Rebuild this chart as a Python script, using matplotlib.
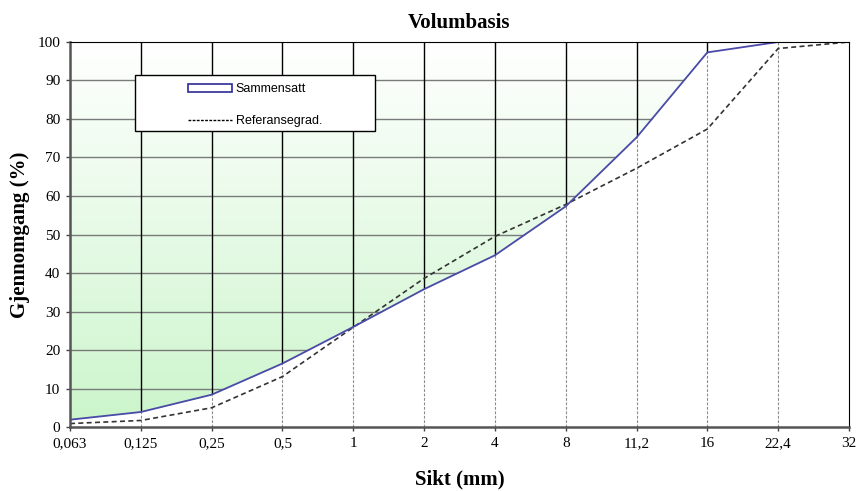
"""Siktekurve (volumbasis) - sammensatt vs. referansegradering."""

import numpy as np
import matplotlib
matplotlib.use("Agg")
import matplotlib.pyplot as plt
from matplotlib.patches import Patch, Rectangle
from matplotlib.lines import Line2D

# sieve sizes (mm), shown as evenly spaced categories
sieves = ["0,063", "0,125", "0,25", "0,5", "1", "2", "4", "8", "11,2", "16", "22,4", "32"]
# passing (%)
sammensatt = [1.9, 3.9, 8.4, 16.5, 26.0, 35.8, 44.6, 57.3, 75.2, 97.3, 100.0, 100.0]
referanse = [0.9, 1.7, 5.0, 13.1, 25.9, 38.6, 49.5, 57.8, 67.2, 77.4, 98.3, 100.0]
y_ticks = [0, 10, 20, 30, 40, 50, 60, 70, 80, 90, 100]

serif = ["Liberation Serif", "DejaVu Serif"]
sans = ["Liberation Sans", "DejaVu Sans"]

fig = plt.figure(figsize=(8.56, 4.91), dpi=100)
ax = fig.add_axes([0.0818, 0.1303, 0.910, 0.7842])

x = np.arange(len(sieves))
xmax = len(sieves) - 1

# green gradient background (green at the bottom, white at the top)
grad = np.linspace(0, 1, 256).reshape(-1, 1)
bottom_c = np.array([0.79, 0.96, 0.79])
top_c = np.array([1.0, 1.0, 1.0])
img = bottom_c + (top_c - bottom_c) * grad ** 0.9
ax.imshow(img[:, None, :].repeat(2, axis=1), extent=[0, xmax, 0, 100],
          origin="lower", aspect="auto", zorder=0)

# grid: horizontal gray, vertical black
for yv in y_ticks[1:-1]:
    ax.axhline(yv, color="#7a7a7a", lw=1.0, zorder=1)
for xv in x[1:-1]:
    ax.axvline(xv, color="black", lw=1.0, zorder=1)

# white area below the composite curve hides the grid
ax.fill_between(x, 0, sammensatt, color="white", lw=0, zorder=2)
ax.vlines(x[1:-1], 0, np.array(sammensatt)[1:-1], colors="#8c8c8c",
          linestyles=(0, (2.5, 1.5)), lw=0.8, zorder=3)

ax.plot(x, referanse, color="#333333", lw=1.2, ls=(0, (3, 2)), zorder=4)
ax.plot(x, sammensatt, color="#4a4aa8", lw=1.3, zorder=5)

ax.set_xlim(0, xmax)
ax.set_ylim(0, 100)
ax.set_xticks(x)
ax.set_xticklabels(sieves, fontfamily=serif, fontsize=11)
ax.set_yticks(y_ticks)
ax.set_yticklabels([str(v) for v in y_ticks], fontfamily=serif, fontsize=11)
ax.tick_params(axis="both", direction="out", length=3, width=1, color="#444444", pad=4)

ax.spines["left"].set_color("#555555")
ax.spines["left"].set_linewidth(1.8)
ax.spines["bottom"].set_color("#555555")
ax.spines["bottom"].set_linewidth(1.8)
ax.spines["top"].set_color("black")
ax.spines["right"].set_color("black")
for s in ax.spines.values():
    s.set_zorder(6)

ax.set_title("Volumbasis", fontfamily=serif, fontsize=15, fontweight="bold", pad=10)
ax.set_xlabel("Sikt (mm)", fontfamily=serif, fontsize=15, fontweight="bold", labelpad=14)
ax.set_ylabel("Gjennomgang (%)", fontfamily=serif, fontsize=15, fontweight="bold", labelpad=5)

# legend frame drawn separately so it can be wider than its contents
box = Rectangle((0.0834, 0.769), 0.308, 0.145, transform=ax.transAxes,
                facecolor="white", edgecolor="black", lw=1.0, zorder=7)
ax.add_patch(box)
handles = [
    Patch(facecolor="white", edgecolor="#2b2b9a", lw=1.2),
    Line2D([0], [0], color="black", lw=1.0, ls=(0, (2, 1))),
]
leg = ax.legend(handles, ["Sammensatt", "Referansegrad."],
                loc="center", bbox_to_anchor=(0.2376, 0.836),
                prop={"family": sans, "size": 9}, frameon=False,
                handlelength=3.5, handleheight=0.6, handletextpad=0.3,
                labelspacing=1.6, borderpad=0.0)
leg.set_zorder(8)

fig.savefig("out.png", dpi=100, facecolor="white")
